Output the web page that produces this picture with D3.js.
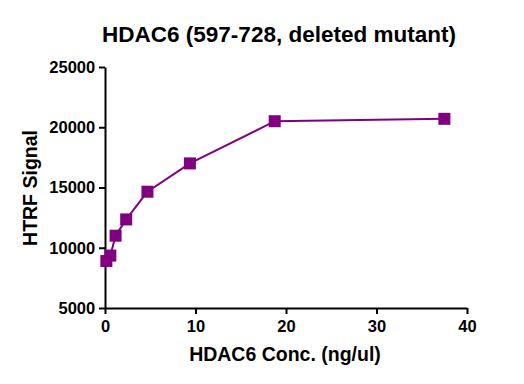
<!DOCTYPE html>
<html>
<head>
<script src="https://d3js.org/d3.v7.min.js"></script>
<style>
  body { margin: 0; background: #fff; }
  text { font-family: "Liberation Sans", Arial, sans-serif; font-weight: bold; }
</style>
</head>
<body>
<script>
// data
var conc = [0.15, 0.59, 1.17, 2.34, 4.69, 9.38, 18.75, 37.5];
var signal = [8900, 9350, 11000, 12350, 14650, 17000, 20500, 20700];
var xTicks = [0, 10, 20, 30, 40];
var yTicks = [5000, 10000, 15000, 20000, 25000];

var W = 524, H = 384;
var margin = {top: 67, right: 57, bottom: 76, left: 105};
var width = W - margin.left - margin.right,
    height = H - margin.top - margin.bottom;
var color = "#800080";

var svg = d3.select("body").append("svg")
    .attr("width", W).attr("height", H);

var g = svg.append("g")
    .attr("transform", "translate(" + margin.left + "," + margin.top + ")");

var x = d3.scaleLinear().domain([0, 40]).range([0, width]);
var y = d3.scaleLinear().domain([5000, 25000]).range([height, 0]);

var xAxis = g.append("g")
    .attr("transform", "translate(0," + height + ")")
    .call(d3.axisBottom(x).tickValues(xTicks).tickFormat(d3.format("d")).tickSize(6).tickSizeOuter(0));
var yAxis = g.append("g")
    .call(d3.axisLeft(y).tickValues(yTicks).tickFormat(d3.format("d")).tickSize(6).tickSizeOuter(0));

[xAxis, yAxis].forEach(function(a) {
  a.selectAll("path, line").attr("stroke", "#000").attr("stroke-width", 2);
  a.selectAll("text").attr("fill", "#000").style("font-size", "16.5px")
      .style("font-family", "'Liberation Sans', Arial, sans-serif").style("font-weight", "bold");
});
xAxis.selectAll("text").attr("dy", "0.9em");
yAxis.selectAll("text").attr("dx", "-0.05em");

var pts = conc.map(function(c, i) { return [c, signal[i]]; });

g.append("path")
    .datum(pts)
    .attr("fill", "none")
    .attr("stroke", color)
    .attr("stroke-width", 2)
    .attr("d", d3.line().x(function(d) { return x(d[0]); }).y(function(d) { return y(d[1]); }));

var s = 12;
g.selectAll(".pt")
    .data(pts)
    .enter().append("rect")
    .attr("class", "pt")
    .attr("x", function(d) { return x(d[0]) - s / 2; })
    .attr("y", function(d) { return y(d[1]) - s / 2; })
    .attr("width", s).attr("height", s)
    .attr("fill", color);

svg.append("text")
    .attr("x", 279).attr("y", 42)
    .attr("text-anchor", "middle")
    .style("font-size", "22.5px")
    .text("HDAC6 (597-728, deleted mutant)");

svg.append("text")
    .attr("x", 285).attr("y", 361)
    .attr("text-anchor", "middle")
    .style("font-size", "19.5px")
    .text("HDAC6 Conc. (ng/ul)");

svg.append("text")
    .attr("transform", "translate(37,188) rotate(-90)")
    .attr("text-anchor", "middle")
    .style("font-size", "19.5px")
    .text("HTRF Signal");
</script>
</body>
</html>
